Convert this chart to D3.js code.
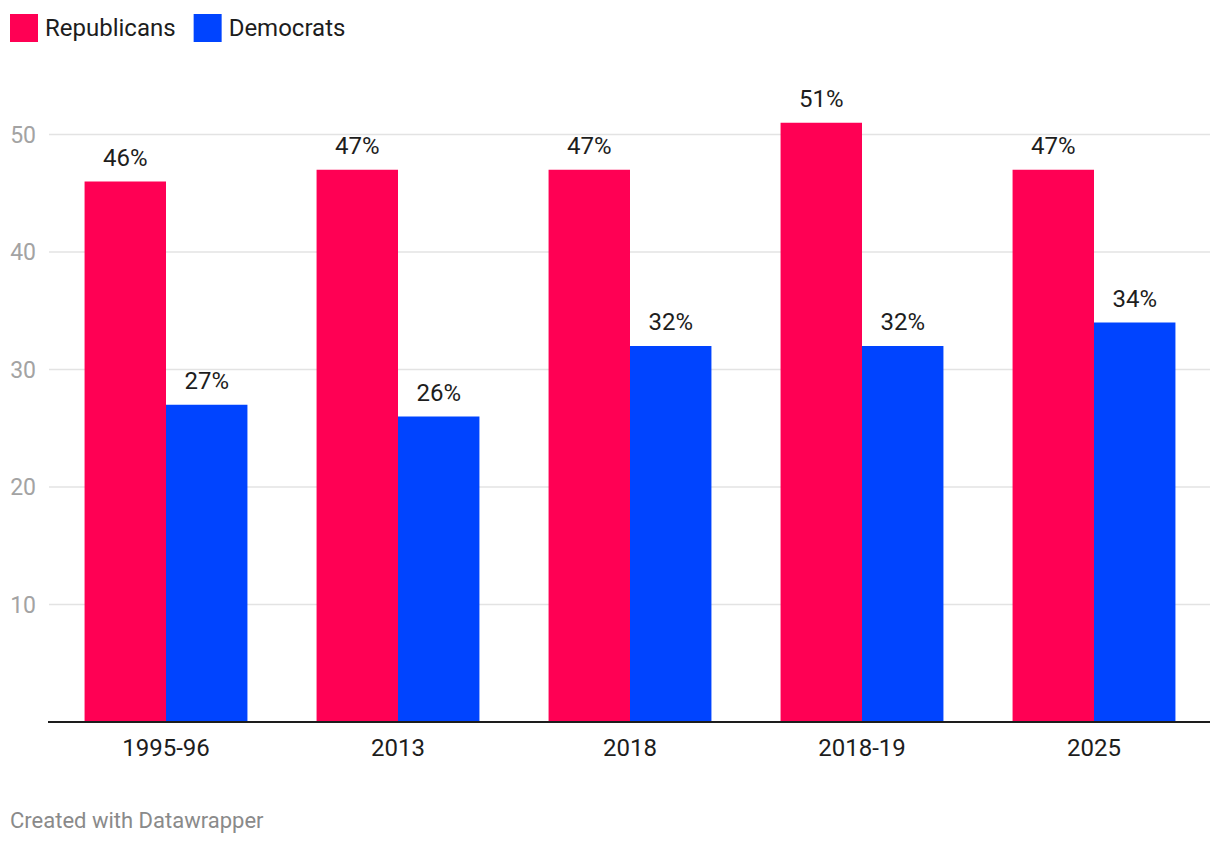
<!DOCTYPE html>
<html>
<head>
<meta charset="utf-8">
<script src="https://cdn.jsdelivr.net/npm/d3@7"></script>
<style>
  body { margin: 0; background: #fff; }
  svg { display: block; font-family: Roboto, sans-serif; }
</style>
</head>
<body>
<svg id="chart"></svg>
<script>
var categories = ["1995-96", "2013", "2018", "2018-19", "2025"]
var seriesNames = ["Republicans", "Democrats"]
var republicans = [46, 47, 47, 51, 47]
var democrats = [27, 26, 32, 32, 34]
var yTicks = [10, 20, 30, 40, 50]

var colors = ["#ff0054", "#0044ff"]
var width = 1220, height = 844
var margin = ({top: 76, right: 10, bottom: 122, left: 50})

var rows = categories.map((c, i) => ({cat: c, values: [republicans[i], democrats[i]]}))

var svg = d3.select("#chart")
	.attr("width", width)
	.attr("height", height)
	.attr("viewBox", [0, 0, width, height])

var x = d3.scaleBand()
	.domain(categories)
	.range([margin.left, width - margin.right])
	.paddingInner(0.298)
	.paddingOuter(0.149)

var x1 = d3.scaleBand()
	.domain(seriesNames)
	.range([0, x.bandwidth()])

var y = d3.scaleLinear()
	.domain([0, 50])
	.range([722, 722 - 50 * 11.75])

// grid lines
svg.append("g")
	.selectAll("line")
	.data(yTicks)
	.join("line")
	.attr("x1", 49)
	.attr("x2", width - margin.right)
	.attr("y1", d => y(d))
	.attr("y2", d => y(d))
	.attr("stroke", "#e3e3e3")
	.attr("stroke-width", 1.5)

svg.append("g")
	.selectAll("text")
	.data(yTicks)
	.join("text")
	.attr("x", 36)
	.attr("y", d => y(d))
	.attr("dy", "0.35em")
	.attr("text-anchor", "end")
	.attr("font-size", 23)
	.attr("fill", "#a3a3a3")
	.text(d => d)

// bars
var groups = svg.append("g")
	.selectAll("g")
	.data(rows)
	.join("g")
	.attr("transform", d => `translate(${x(d.cat)},0)`)

groups.selectAll("rect")
	.data(d => d.values.map((v, i) => ({name: seriesNames[i], v: v, i: i})))
	.join("rect")
	.attr("x", d => x1(d.name))
	.attr("width", x1.bandwidth())
	.attr("y", d => y(d.v))
	.attr("height", d => y(0) - y(d.v))
	.attr("fill", d => colors[d.i])

groups.selectAll("text")
	.data(d => d.values.map((v, i) => ({name: seriesNames[i], v: v})))
	.join("text")
	.attr("x", d => x1(d.name) + x1.bandwidth() / 2)
	.attr("y", d => y(d.v) - 16)
	.attr("text-anchor", "middle")
	.attr("font-size", 24)
	.attr("fill", "#1d1d1d")
	.text(d => d.v + "%")

// x axis
svg.append("g")
	.attr("transform", `translate(0,${y(0)})`)
	.call(d3.axisBottom(x).tickSize(0).tickPadding(17))
	.call(g => g.select(".domain").remove())
	.call(g => g.selectAll("text")
		.attr("font-size", 24)
		.attr("font-family", "Roboto, sans-serif")
		.attr("fill", "#1d1d1d"))

svg.append("line")
	.attr("x1", 48)
	.attr("x2", width - margin.right)
	.attr("y1", y(0))
	.attr("y2", y(0))
	.attr("stroke", "#1d1d1d")
	.attr("stroke-width", 2)

// legend
var legend = svg.append("g")
var lx = 10
seriesNames.forEach((n, i) => {
	legend.append("rect")
		.attr("x", lx)
		.attr("y", 14)
		.attr("width", 28)
		.attr("height", 28)
		.attr("fill", colors[i])
	var t = legend.append("text")
		.attr("x", lx + 35)
		.attr("y", 36)
		.attr("font-size", 24)
		.attr("fill", "#1d1d1d")
		.text(n)
	lx += 35 + t.node().getComputedTextLength() + 18
})

svg.append("text")
	.attr("x", 10)
	.attr("y", 828)
	.attr("font-size", 22)
	.attr("fill", "#8a8a8a")
	.text("Created with Datawrapper")
</script>
</body>
</html>
